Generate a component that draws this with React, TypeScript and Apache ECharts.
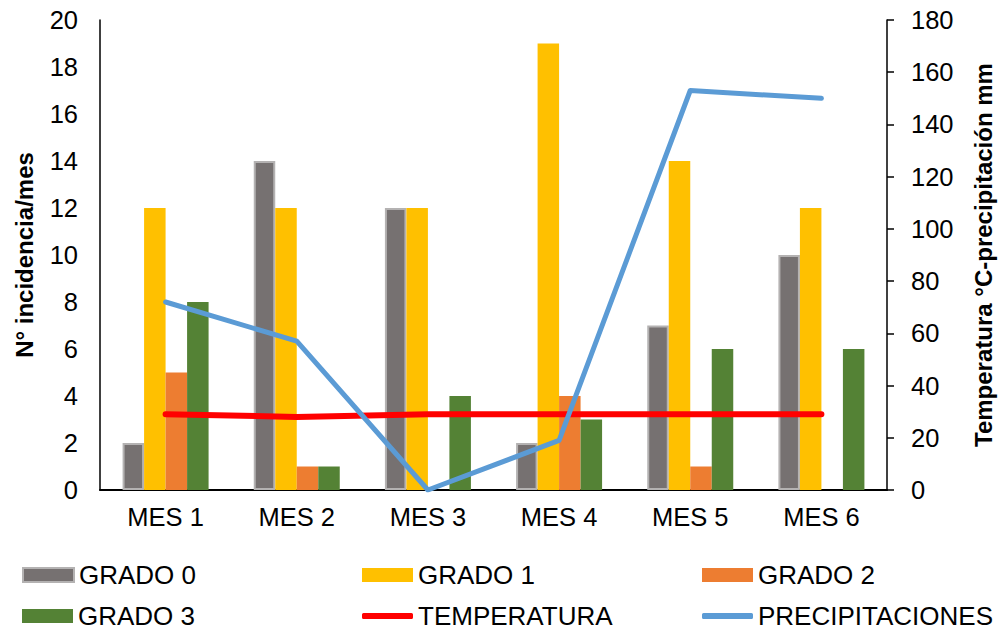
import React, { useEffect, useRef } from "react";
import * as echarts from "echarts";

const categories = ["MES 1", "MES 2", "MES 3", "MES 4", "MES 5", "MES 6"];
const grado0 = [2, 14, 12, 2, 7, 10];
const grado1 = [12, 12, 12, 19, 14, 12];
const grado2 = [5, 1, 0, 4, 1, 0];
const grado3 = [8, 1, 4, 3, 6, 6];
const temperatura = [29, 28, 29, 29, 29, 29];
const precipitaciones = [72, 57, 0, 19, 153, 150];

const FONT = "Liberation Sans, Arial, sans-serif";

export default function App() {
  const ref = useRef<HTMLDivElement>(null);
  useEffect(() => {
    if (!ref.current) return;
    const chart = echarts.init(ref.current, undefined, { renderer: "svg" });
    const legendBase = (name: string, left: number, top: number, h: number, icon: string) => ({
      data: [{ name, icon }],
      left,
      top,
      padding: 0,
      itemWidth: 51,
      itemHeight: h,
      textStyle: { fontSize: 26, color: "#000", fontFamily: FONT },
      selectedMode: false,
    });
    const barCommon = { type: "bar", barWidth: 21.5, barGap: "0%" };
    chart.setOption({
      animation: false,
      textStyle: { fontFamily: FONT },
      grid: { left: 100, right: 110, top: 20, bottom: 141 },
      legend: [
        legendBase("GRADO 0", 22, 562, 14, "rect"),
        legendBase("GRADO 1", 362, 562, 14, "rect"),
        legendBase("GRADO 2", 702, 562, 14, "rect"),
        legendBase("GRADO 3", 22, 603, 14, "rect"),
        legendBase("TEMPERATURA", 362, 603, 6, "roundRect"),
        legendBase("PRECIPITACIONES", 702, 603, 6, "roundRect"),
      ],
      xAxis: {
        type: "category",
        data: categories,
        axisLine: { lineStyle: { color: "#000", width: 2 } },
        axisTick: { show: false },
        axisLabel: { fontSize: 25.5, color: "#000", margin: 14, fontFamily: FONT },
      },
      yAxis: [
        {
          type: "value",
          min: 0,
          max: 20,
          interval: 2,
          name: "N° incidencia/mes",
          nameLocation: "middle",
          nameGap: 64,
          nameTextStyle: { fontSize: 24, fontWeight: "bold", color: "#000", fontFamily: FONT },
          axisLine: { show: true, lineStyle: { color: "#000", width: 1.5 } },
          axisTick: { show: false },
          splitLine: { show: false },
          axisLabel: { fontSize: 25.5, color: "#000", margin: 22, fontFamily: FONT },
        },
        {
          type: "value",
          min: 0,
          max: 180,
          interval: 20,
          name: "Temperatura °C-precipitación mm",
          nameLocation: "middle",
          nameGap: 84,
          nameRotate: 90,
          nameTextStyle: { fontSize: 24, fontWeight: "bold", color: "#000", fontFamily: FONT },
          axisLine: { show: true, lineStyle: { color: "#000", width: 1.5 } },
          axisTick: { show: true, length: 7, lineStyle: { color: "#000", width: 1.5 } },
          splitLine: { show: false },
          axisLabel: { fontSize: 25.5, color: "#000", margin: 24, fontFamily: FONT },
        },
      ],
      series: [
        {
          ...barCommon,
          name: "GRADO 0",
          data: grado0,
          itemStyle: { color: "#767171", borderColor: "#b4b2b2", borderWidth: 2 },
        },
        { ...barCommon, name: "GRADO 1", data: grado1, itemStyle: { color: "#FFC000" } },
        { ...barCommon, name: "GRADO 2", data: grado2, itemStyle: { color: "#ED7D31" } },
        { ...barCommon, name: "GRADO 3", data: grado3, itemStyle: { color: "#548235" } },
        {
          type: "line",
          name: "TEMPERATURA",
          yAxisIndex: 1,
          data: temperatura,
          showSymbol: false,
          symbol: "none",
          itemStyle: { color: "#FF0000" },
          lineStyle: { color: "#FF0000", width: 6, cap: "round", join: "round" },
        },
        {
          type: "line",
          name: "PRECIPITACIONES",
          yAxisIndex: 1,
          data: precipitaciones,
          showSymbol: false,
          symbol: "none",
          itemStyle: { color: "#5B9BD5" },
          lineStyle: { color: "#5B9BD5", width: 5, cap: "round", join: "round" },
        },
      ],
    });
    return () => chart.dispose();
  }, []);
  return (
    <div
      ref={ref}
      style={{ position: "absolute", left: 0, top: 0, width: 1003, height: 631, background: "#fff" }}
    />
  );
}
